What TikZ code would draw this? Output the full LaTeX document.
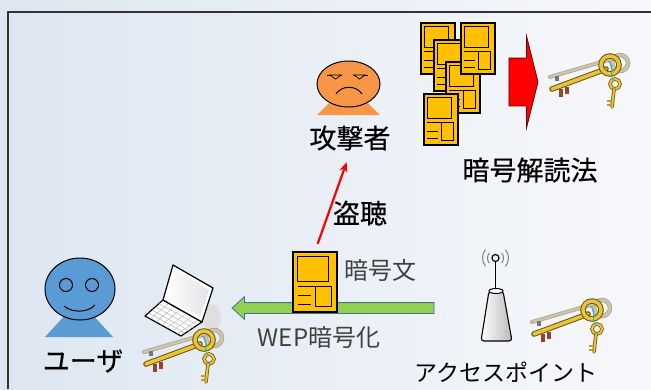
\documentclass[tikz,border=0pt]{standalone}
\usepackage{fontspec}
\setmainfont{Noto Sans CJK JP}
\newfontfamily\labelfont{Noto Sans CJK JP}[FakeBold=0.4]
\usetikzlibrary{shapes.geometric,shapes.arrows,arrows.meta,calc}
\definecolor{bgleft}{RGB}{221,230,241}
\definecolor{bgright}{RGB}{247,248,251}
\definecolor{docyellow}{RGB}{255,192,0}
\definecolor{faceorange}{RGB}{247,150,70}
\definecolor{faceblue}{RGB}{91,155,213}
\definecolor{wepgreen}{RGB}{146,208,80}
\definecolor{wepedge}{RGB}{65,113,156}
\definecolor{keygold}{RGB}{232,196,60}
\definecolor{keyedge}{RGB}{110,85,10}
\definecolor{keygrey}{RGB}{200,198,182}
\definecolor{keybit}{RGB}{150,70,40}
\definecolor{thread}{RGB}{60,170,170}
\definecolor{labelgrey}{RGB}{64,64,64}

\tikzset{
  docbox/.style={draw=black, line width=1.3pt, fill=docyellow, inner sep=0pt},
  biglabel/.style={font=\labelfont\fontsize{27}{30}\selectfont, inner sep=2pt},
  greylabel/.style={font=\fontsize{24}{28}\selectfont, text=labelgrey, inner sep=2pt},
  faceline/.style={draw=black, line width=1pt}
}

% ciphertext sheet: name, centre x, centre y, width, height
\newcommand{\docpage}[5]{%
  \node[docbox, minimum width=#4pt, minimum height=#5pt] (#1) at (#2,#3) {};
  \begin{scope}[shift={(#1.north west)}, x=#4pt, y=-#5pt, line width=0.9pt]
    \draw (0.12,0.08) rectangle (0.82,0.5);
    \draw (0.12,0.58) -- (0.52,0.58) rectangle (0.88,0.92);
    \draw (0.12,0.74) -- (0.42,0.74) (0.12,0.88) -- (0.42,0.88);
  \end{scope}}

% bunch of keys around the ring at (#1,#2)
\newcommand{\keybunch}[2]{%
  \begin{scope}[shift={(#1,#2)}]
    \draw[keyedge!50, line width=4.5pt] (10,-2) circle (8);
    \draw[keygrey, line width=2.5pt] (10,-2) circle (8);
    \draw[keyedge!50, line width=4pt, line cap=round] (2,-6) -- (-60,12);
    \draw[keygrey, line width=2.2pt, line cap=round] (2,-6) -- (-60,12);
    \fill[keygrey!60!black] (-55,11) rectangle (-51,16);
    \draw[keyedge, line width=5.5pt, line cap=round] (-4,4) -- (-58,24);
    \draw[keygold, line width=3.5pt, line cap=round] (-4,4) -- (-58,24);
    \fill[keybit] (-51,24) rectangle (-47,32);
    \fill[keybit] (-45,22) rectangle (-41,29);
    \draw[keyedge, line width=5.5pt] (0,0) circle (9);
    \draw[keygold, line width=3.5pt] (0,0) circle (9);
    \draw[keyedge, line width=3.5pt] (5,19) circle (5);
    \draw[keygold, line width=2pt] (5,19) circle (5);
    \draw[keyedge, line width=3.5pt, line cap=round] (4,24) -- (2,42);
    \draw[keygold, line width=2pt, line cap=round] (4,24) -- (2,42);
    \draw[keygold!80!black, line width=2pt] (2,36) -- (-3,36) (2,40) -- (-3,40);
    \draw[thread, line width=1pt] (-2,-4) .. controls (6,2) and (-2,10) .. (4,15);
  \end{scope}}

\begin{document}
\begin{tikzpicture}[x=1pt, y=-1pt]
  \useasboundingbox (0,0) rectangle (651,389);
  \shade[left color=bgleft, right color=bgright] (0,0) rectangle (651,389);
  \draw[line width=1.6pt, black!80] (8,389) -- (8,12) -- (651,12);

  % attacker
  \fill[faceorange] (317,115) -- (380,115) -- (348.5,84) -- cycle;
  \node[ellipse, faceline, fill=faceorange, minimum width=63pt, minimum height=46pt, inner sep=0pt] (attacker) at (348.5,84) {};
  \draw[line width=0.8pt] (327,75) -- (342,75) (353,75) -- (368,75);
  \filldraw[fill=docyellow!70!orange, line width=0.8pt] (330,75) -- (335.5,79) -- (341,75) -- cycle;
  \filldraw[fill=docyellow!70!orange, line width=0.8pt] (354,75) -- (359.5,79) -- (365,75) -- cycle;
  \draw[line width=1pt] (336,94) .. controls (342,85) and (356,85) .. (362,94);
  \node[biglabel] (attackerlabel) at (350,138) {攻撃者};

  % user
  \fill[faceblue] (45,337) -- (113,337) -- (79,300) -- cycle;
  \node[ellipse, faceline, fill=faceblue, minimum width=70pt, minimum height=62pt, inner sep=0pt] (user) at (80,289) {};
  \draw[line width=1pt] (66,285) circle (6.5) (92,285) circle (6.5);
  \draw[line width=1pt] (64,306) .. controls (72,313) and (88,313) .. (95,305);
  \node[biglabel] (userlabel) at (83,361) {ユーザ};

  % laptop
  \coordinate (hingeL) at (163,300);
  \coordinate (hingeR) at (202,322);
  \coordinate (frontR) at (181,336);
  \coordinate (frontL) at (145,316);
  \fill[gray!25] (212,318) ellipse (9 and 14);
  \filldraw[fill=white, line width=1.2pt, line join=round] (hingeL) -- (hingeR) -- (frontR) -- (frontL) -- cycle;
  \foreach \t in {0.22,0.42,0.62,0.8}
    \draw[gray!55, line width=0.5pt] ($(hingeL)!\t!(frontL)$) -- ($(hingeR)!\t!(frontR)$);
  \foreach \t in {0.15,0.3,0.45,0.6,0.75,0.9}
    \draw[gray!55, line width=0.5pt] ($(hingeL)!\t!(hingeR)$) -- ($(frontL)!\t!(frontR)$);
  \filldraw[fill=white, line width=1.2pt, line join=round] (hingeL) -- (173,265) -- (213,288) -- (hingeR) -- cycle;
  \shade[left color=white, right color=blue!12!gray!20] (166,297) -- (175,269) -- (209,290) -- (200,317) -- cycle;

  % access point
  \draw[gray, line width=1pt] (495.5,258) ++(140:8) arc (140:220:8);
  \draw[gray, line width=1pt] (495.5,258) ++(140:13) arc (140:220:13);
  \draw[gray, line width=1pt] (495.5,258) ++(-40:8) arc (-40:40:8);
  \draw[gray, line width=1pt] (495.5,258) ++(-40:13) arc (-40:40:13);
  \draw[line width=1.2pt] (495.5,262) -- (495.5,290);
  \draw[line width=1.2pt, fill=white] (495.5,258) circle (3.5);
  \shadedraw[left color=white, right color=gray!55, line width=1.1pt, rounded corners=3pt] (489,291) -- (481,341) -- (512,341) -- (503,291) -- cycle;
  \filldraw[fill=white, line width=1pt] (496,291) ellipse (7 and 2.5);
  \node[font=\fontsize{23}{26}\selectfont, inner sep=2pt] (aplabel) at (506,372) {アクセスポイント};

  % keys
  \keybunch{610}{65}
  \keybunch{204}{340}
  \keybunch{592}{310}

  % WEP traffic
  \node[single arrow, shape border rotate=180, draw=wepedge, fill=wepgreen, line width=0.8pt,
        minimum height=202pt, inner xsep=0pt, inner ysep=5pt, single arrow head extend=6pt,
        single arrow tip angle=85] (wepflow) at (336,308) {};
  \docpage{cipher}{315}{282}{44}{60}
  \node[greylabel, anchor=west] (cipherlabel) at (342,270) {暗号文};
  \node[greylabel] (weplabel) at (319,337) {WEP暗号化};

  % eavesdropping
  \draw[red, line width=2.2pt, -{Stealth[length=10pt,width=8pt]}, shorten <=8pt, shorten >=10pt] (cipher.north) -- (attackerlabel.south);
  \node[biglabel] (taplabel) at (360,213) {盗聴};

  % collected ciphertexts
  \docpage{pageA}{438}{48.5}{34}{51}
  \docpage{pageB}{451}{65.5}{34}{51}
  \docpage{pageD}{463}{87.5}{34}{51}
  \docpage{pageC}{478}{48.5}{34}{51}
  \docpage{pageE}{441}{119.5}{34}{51}
  \node[single arrow, draw=red!40!black, fill=red, line width=0.8pt, minimum height=29pt,
        inner xsep=0pt, inner ysep=23.5pt, single arrow head extend=22pt,
        single arrow tip angle=152] (crack) at (520.5,82) {};
  \node[biglabel] (cracklabel) at (530,170) {暗号解読法};
\end{tikzpicture}
\end{document}
